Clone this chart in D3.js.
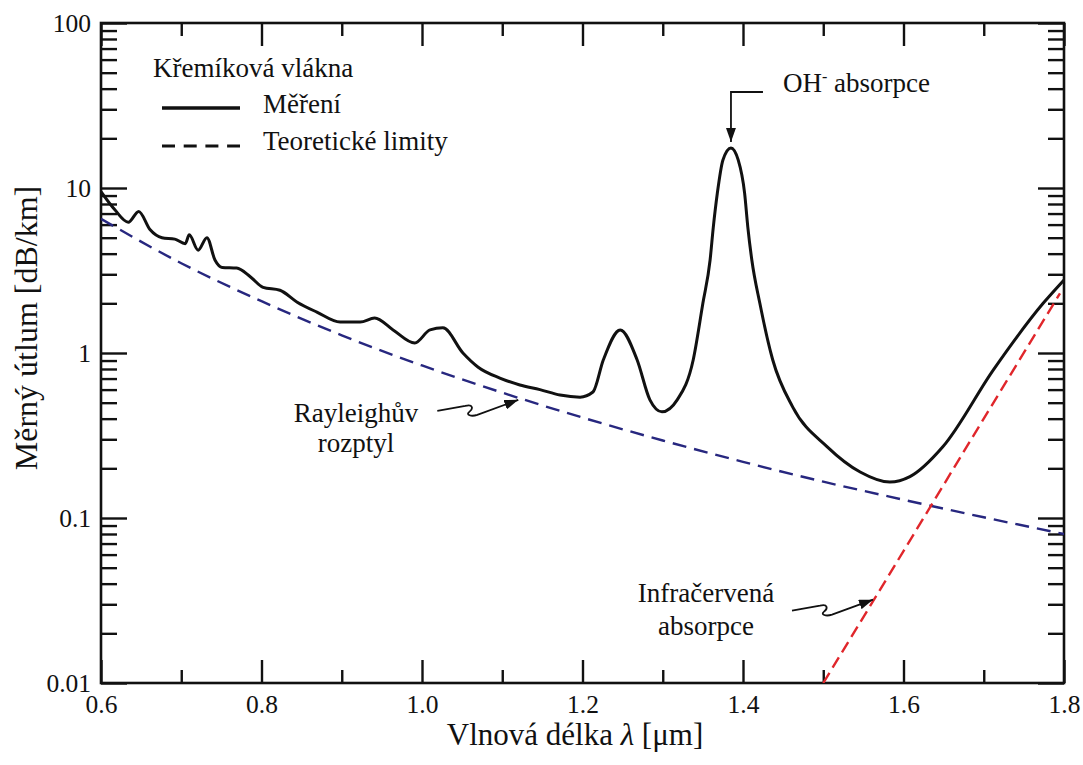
<!DOCTYPE html>
<html>
<head>
<meta charset="utf-8">
<script src="https://cdn.jsdelivr.net/npm/d3@7"></script>
<style>
  html, body { margin: 0; padding: 0; background: #fff; }
  svg { display: block; }
  svg text { font-family: "Liberation Serif", "Times New Roman", Times, Tinos, "DejaVu Serif", "Noto Serif", serif !important; fill: #111; }
</style>
</head>
<body>
<div id="chart"></div>
<script>
// ---------- data ----------
const measuredWavelength = [0.600, 0.617, 0.634, 0.647, 0.661, 0.676, 0.692, 0.705, 0.710, 0.721, 0.732, 0.742, 0.751, 0.769, 0.786, 0.802, 0.823, 0.844, 0.869, 0.898, 0.923, 0.941, 0.964, 0.991, 1.010, 1.026, 1.051, 1.070, 1.097, 1.122, 1.147, 1.172, 1.197, 1.213, 1.226, 1.247, 1.268, 1.284, 1.299, 1.318, 1.338, 1.350, 1.359, 1.363, 1.368, 1.375, 1.385, 1.394, 1.402, 1.406, 1.411, 1.421, 1.437, 1.462, 1.505, 1.546, 1.583, 1.608, 1.649, 1.712, 1.774, 1.800];
const measuredLoss       = [9.5, 7.4, 6.2, 7.2, 5.6, 5.0, 4.9, 4.6, 5.2, 4.2, 5.0, 3.66, 3.3, 3.27, 2.9, 2.5, 2.4, 2.04, 1.77, 1.54, 1.54, 1.63, 1.38, 1.15, 1.38, 1.42, 1.0, 0.82, 0.705, 0.64, 0.60, 0.556, 0.54, 0.58, 0.91, 1.38, 0.91, 0.52, 0.44, 0.52, 0.91, 2.0, 3.66, 5.8, 9.3, 14.8, 17.5, 14.8, 9.3, 5.8, 3.66, 2.0, 0.91, 0.47, 0.27, 0.19, 0.165, 0.178, 0.27, 0.79, 2.0, 2.77];

const rayleighWavelength = [0.6, 0.7, 0.8, 0.9, 1.0, 1.1, 1.2, 1.3, 1.4, 1.5, 1.6, 1.7, 1.8];
const rayleighLoss       = [6.5, 3.5, 2.06, 1.28, 0.84, 0.575, 0.406, 0.295, 0.219, 0.166, 0.129, 0.101, 0.080];

const infraredWavelength = [1.5, 1.6, 1.7, 1.795];
const infraredLoss       = [0.01, 0.063, 0.40, 2.3];

const xMajorTicks = [0.6, 0.8, 1.0, 1.2, 1.4, 1.6, 1.8];
const xTickLabels = ["0.6", "0.8", "1.0", "1.2", "1.4", "1.6", "1.8"];
const xMinorTicks = [0.7, 0.9, 1.1, 1.3, 1.5, 1.7];
const yMajorTicks = [0.01, 0.1, 1, 10, 100];
const yTickLabels = ["0.01", "0.1", "1", "10", "100"];
const yMinorMultipliers = [2, 3, 4, 5, 6, 7, 8, 9];

const xTitle = "Vlnová délka ";
const xTitleSymbol = "λ";
const xTitleUnit = " [μm]";
const yTitle = "Měrný útlum [dB/km]";
const legendTitle = "Křemíková vlákna";
const legendItems = ["Měření", "Teoretické limity"];
const ohLabel = ["OH", "-", " absorpce"];
const rayleighLabel = ["Rayleighův", "rozptyl"];
const infraredLabel = ["Infračervená", "absorpce"];

// ---------- layout ----------
const W = 1083, H = 765;
const L = 101, R = 1064, T = 23, B = 683;
const SERIF = '"Liberation Serif", "Times New Roman", Times, Tinos, "DejaVu Serif", serif';

const svg = d3.select("#chart").append("svg").attr("width", W).attr("height", H)
  .attr("font-family", SERIF);

const x = d3.scaleLinear().domain([0.6, 1.8]).range([L, R]);
const y = d3.scaleLog().domain([0.01, 100]).range([B, T]);

const defs = svg.append("defs");
defs.append("clipPath").attr("id", "plotClip")
  .append("rect").attr("x", L).attr("y", T).attr("width", R - L).attr("height", B - T);
defs.append("marker").attr("id", "arrowHead")
  .attr("viewBox", "0 0 14 10").attr("refX", 14).attr("refY", 5)
  .attr("markerWidth", 14).attr("markerHeight", 10)
  .attr("markerUnits", "userSpaceOnUse").attr("orient", "auto")
  .append("path").attr("d", "M0,0 L14,5 L0,10 Z").attr("fill", "#111");

const yMinorTicks = [];
[0.01, 0.1, 1, 10].forEach(d => yMinorMultipliers.forEach(m => yMinorTicks.push(d * m)));

// ---------- axes (ticks inward on all four sides) ----------
const tickFont = "25.5px";
const axisStyle = g => {
  g.attr("font-family", SERIF);
  g.select(".domain").remove();
  g.selectAll("line").attr("stroke", "#111").attr("stroke-width", 2.4);
  g.selectAll("text").style("font-size", tickFont).attr("fill", "#111");
};

svg.append("g").attr("transform", `translate(0,${B})`)
  .call(d3.axisBottom(x).tickValues(xMajorTicks).tickSize(-23).tickPadding(12)
    .tickFormat((d, i) => xTickLabels[i]))
  .call(axisStyle);
svg.append("g").attr("transform", `translate(0,${B})`)
  .call(d3.axisBottom(x).tickValues(xMinorTicks).tickSize(-13).tickFormat(""))
  .call(axisStyle);
svg.append("g").attr("transform", `translate(0,${T})`)
  .call(d3.axisTop(x).tickValues(xMajorTicks).tickSize(-23).tickFormat(""))
  .call(axisStyle);
svg.append("g").attr("transform", `translate(0,${T})`)
  .call(d3.axisTop(x).tickValues(xMinorTicks).tickSize(-13).tickFormat(""))
  .call(axisStyle);

svg.append("g").attr("transform", `translate(${L},0)`)
  .call(d3.axisLeft(y).tickValues(yMajorTicks).tickSize(-26).tickPadding(10)
    .tickFormat((d, i) => yTickLabels[i]))
  .call(axisStyle);
svg.append("g").attr("transform", `translate(${L},0)`)
  .call(d3.axisLeft(y).tickValues(yMinorTicks).tickSize(-16).tickFormat(""))
  .call(axisStyle);
svg.append("g").attr("transform", `translate(${R},0)`)
  .call(d3.axisRight(y).tickValues(yMajorTicks).tickSize(-26).tickFormat(""))
  .call(axisStyle);
svg.append("g").attr("transform", `translate(${R},0)`)
  .call(d3.axisRight(y).tickValues(yMinorTicks).tickSize(-16).tickFormat(""))
  .call(axisStyle);

// frame
svg.append("rect").attr("x", L).attr("y", T).attr("width", R - L).attr("height", B - T)
  .attr("fill", "none").attr("stroke", "#111").attr("stroke-width", 2.6);

// ---------- series ----------
const line = d3.line().x(d => x(d[0])).y(d => y(d[1])).curve(d3.curveMonotoneX);
const plot = svg.append("g").attr("clip-path", "url(#plotClip)");

plot.append("path")
  .attr("d", line(rayleighWavelength.map((w, i) => [w, rayleighLoss[i]])))
  .attr("fill", "none").attr("stroke", "#27277f").attr("stroke-width", 2.4)
  .attr("stroke-dasharray", "14,8");

plot.append("path")
  .attr("d", line(infraredWavelength.map((w, i) => [w, infraredLoss[i]])))
  .attr("fill", "none").attr("stroke", "#e0262b").attr("stroke-width", 2.4)
  .attr("stroke-dasharray", "12,6");

plot.append("path")
  .attr("d", line(measuredWavelength.map((w, i) => [w, measuredLoss[i]])))
  .attr("fill", "none").attr("stroke", "#111").attr("stroke-width", 3)
  .attr("stroke-linejoin", "round");

// ---------- axis titles ----------
const xt = svg.append("text").attr("x", 575).attr("y", 745).attr("text-anchor", "middle")
  .style("font-size", "31px");
xt.append("tspan").text(xTitle);
xt.append("tspan").style("font-style", "italic").text(xTitleSymbol);
xt.append("tspan").text(xTitleUnit);

svg.append("text").attr("transform", "translate(37,328) rotate(-90)")
  .attr("text-anchor", "middle").style("font-size", "32px").text(yTitle);

// ---------- legend ----------
const annFont = "27px";
svg.append("text").attr("x", 153).attr("y", 77).style("font-size", annFont).text(legendTitle);
svg.append("line").attr("x1", 162).attr("x2", 240).attr("y1", 108).attr("y2", 108)
  .attr("stroke", "#111").attr("stroke-width", 3.5);
svg.append("text").attr("x", 263).attr("y", 113).style("font-size", annFont).text(legendItems[0]);
svg.append("line").attr("x1", 162).attr("x2", 240).attr("y1", 146).attr("y2", 146)
  .attr("stroke", "#111").attr("stroke-width", 3).attr("stroke-dasharray", "13,8.7");
svg.append("text").attr("x", 263).attr("y", 150).style("font-size", annFont).text(legendItems[1]);

// ---------- annotations ----------
// OH- absorption
const ohX = x(1.385), ohTip = y(17.5) - 6;
svg.append("path")
  .attr("d", `M${ohX + 32},92 L${ohX},92 L${ohX},${ohTip}`)
  .attr("fill", "none").attr("stroke", "#111").attr("stroke-width", 1.8)
  .attr("marker-end", "url(#arrowHead)");
const oh = svg.append("text").attr("x", 783).attr("y", 92).style("font-size", annFont);
oh.append("tspan").text(ohLabel[0]);
oh.append("tspan").attr("dy", -10).style("font-size", "16px").text(ohLabel[1]);
oh.append("tspan").attr("dy", 10).text(ohLabel[2]);

// Rayleigh scattering
function squiggle(tipX, tipY) {
  const sx = tipX - 81, sy = tipY + 11;
  return `M${sx},${sy} l28,-5 c8,-2 8,3 4,6 c-4,3 2,5 8,3 L${tipX},${tipY}`;
}
svg.append("path").attr("d", squiggle(x(1.12), y(0.52)))
  .attr("fill", "none").attr("stroke", "#111").attr("stroke-width", 1.8)
  .attr("marker-end", "url(#arrowHead)");
svg.append("text").attr("x", 356).attr("y", 422).attr("text-anchor", "middle")
  .style("font-size", annFont).text(rayleighLabel[0]);
svg.append("text").attr("x", 356).attr("y", 452).attr("text-anchor", "middle")
  .style("font-size", annFont).text(rayleighLabel[1]);

// Infrared absorption
svg.append("path").attr("d", squiggle(x(1.562), y(0.032)))
  .attr("fill", "none").attr("stroke", "#111").attr("stroke-width", 1.8)
  .attr("marker-end", "url(#arrowHead)");
svg.append("text").attr("x", 706).attr("y", 602).attr("text-anchor", "middle")
  .style("font-size", annFont).text(infraredLabel[0]);
svg.append("text").attr("x", 706).attr("y", 635).attr("text-anchor", "middle")
  .style("font-size", annFont).text(infraredLabel[1]);
</script>
</body>
</html>
